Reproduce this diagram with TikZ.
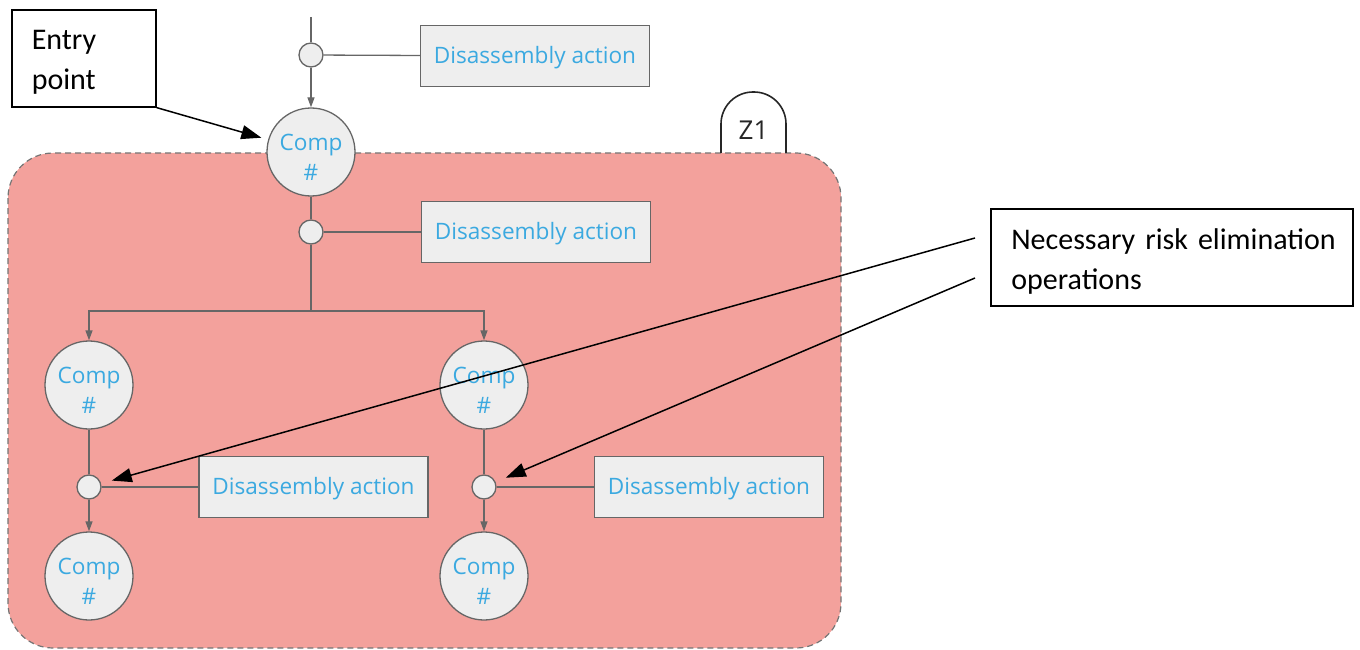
\documentclass[tikz,border=0pt]{standalone}
\usepackage{fontspec}
\setmainfont{Open Sans}
\newfontfamily\calfont{Carlito}
\usetikzlibrary{arrows.meta}
\definecolor{zonepink}{HTML}{F3A19C}
\definecolor{nodefill}{HTML}{EEEEEE}
\definecolor{edgegray}{HTML}{666666}
\definecolor{txtblue}{HTML}{3BA9E0}
\newcommand{\comptext}{\rule{0pt}{26pt}Comp\\\#}
\begin{document}
\begin{tikzpicture}[x=1pt,y=-1pt,
  comp/.style={circle,draw=edgegray,fill=nodefill,line width=1.3pt,minimum size=88pt,inner sep=0pt,
    align=center,text=txtblue,font=\fontsize{22.6}{30}\selectfont},
  junc/.style={circle,draw=edgegray,fill=nodefill,line width=1.3pt,minimum size=24pt,inner sep=0pt},
  action/.style={rectangle,draw=edgegray,fill=nodefill,line width=1.2pt,minimum width=229pt,minimum height=61pt,
    text=txtblue,font=\fontsize{22.6}{26}\selectfont},
  link/.style={draw=edgegray,line width=1.3pt},
  flow/.style={link,-{Triangle[length=10pt,width=7pt]}},
  callout/.style={rectangle,draw=black,line width=1.6pt,fill=white,font=\calfont\fontsize{30}{40}\selectfont,align=left},
  pointer/.style={draw=black,line width=1.5pt,-{Triangle[length=20pt,width=14pt]}}
]
\useasboundingbox (0,0) rectangle (1360,650);
% zone
\draw[fill=zonepink,draw=edgegray!90,line width=1.2pt,dash pattern=on 6pt off 4pt,rounded corners=45pt] (8,153) rectangle (841,648);
\draw[black!85,line width=1.6pt,rounded corners=32pt] (721,153) -- (721,92) -- (786,92) -- (786,153);
\node[font=\fontsize{26}{30}\selectfont,text=black!85] (z1) at (753.5,130) {Z1};
% nodes
\coordinate (top) at (311,17);
\node[junc] (j0) at (311,55) {};
\node[action] (a0) at (535,56) {\rule{0pt}{21pt}Disassembly action};
\node[comp] (c0) at (311,152) {\comptext};
\node[junc] (j1) at (311,232) {};
\node[action] (a1) at (536,232) {\rule{0pt}{21pt}Disassembly action};
\coordinate (split) at (311,311);
\node[comp] (cl) at (89,385) {\comptext};
\node[comp] (cr) at (484,385) {\comptext};
\node[junc] (jl) at (89,487) {};
\node[junc] (jr) at (484,487) {};
\node[action] (al) at (313.5,487) {\rule{0pt}{21pt}Disassembly action};
\node[action] (ar) at (709,487) {\rule{0pt}{21pt}Disassembly action};
\node[comp] (cl2) at (89,576) {\comptext};
\node[comp] (cr2) at (484,576) {\comptext};
% connectors
\draw[link] (top) -- (j0);
\draw[flow] (j0) -- (c0);
\draw[link] (j0) -- (a0);
\draw[link] (c0) -- (j1);
\draw[link] (j1) -- (a1);
\draw[link] (j1) -- (split);
\draw[flow] (split) -| (cl);
\draw[flow] (split) -| (cr);
\draw[link] (cl) -- (jl);
\draw[link] (cr) -- (jr);
\draw[flow] (jl) -- (cl2);
\draw[flow] (jr) -- (cr2);
\draw[link] (jl) -- (al);
\draw[link] (jr) -- (ar);
% callouts
\node[callout,minimum width=144pt,minimum height=97pt,text width=104pt,inner xsep=20pt,anchor=north west] (entry) at (11,9) {\rule{0pt}{27pt}Entry\\point};
\node[callout,minimum width=362pt,minimum height=97pt,text width=321pt,inner xsep=0pt,anchor=north west] (risk) at (990,208) {\rule{0pt}{29pt}\makebox[321pt][s]{Necessary risk elimination}\\operations};
\coordinate (r1) at (975,238);
\coordinate (r2) at (975,278);
\draw[pointer,shorten >=7pt] (entry.south east) -- (c0);
\draw[pointer,shorten >=11pt] (r1) -- (jl);
\draw[pointer,shorten >=11pt] (r2) -- (jr);
\end{tikzpicture}
\end{document}
